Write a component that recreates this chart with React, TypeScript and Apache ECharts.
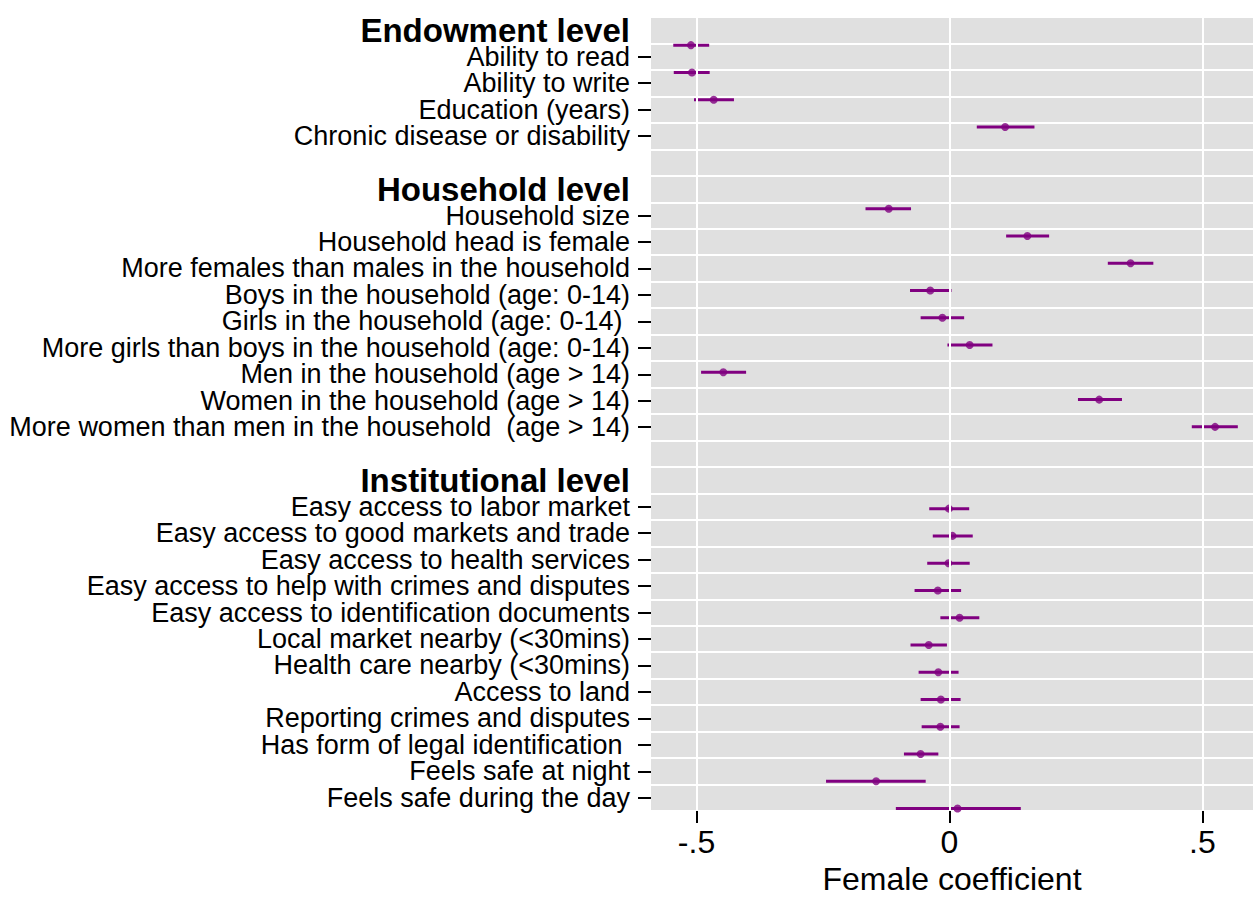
import React, { useEffect, useRef } from "react";
import * as echarts from "echarts";

// ---- data ----
const headings = ["Endowment level", "Household level", "Institutional level"];

const rowLabels = [
  "Endowment level",
  "Ability to read",
  "Ability to write",
  "Education (years)",
  "Chronic disease or disability",
  " ",
  "Household level",
  "Household size",
  "Household head is female",
  "More females than males in the household",
  "Boys in the household (age: 0-14)",
  "Girls in the household (age: 0-14) ",
  "More girls than boys in the household (age: 0-14)",
  "Men in the household (age > 14)",
  "Women in the household (age > 14)",
  "More women than men in the household  (age > 14)",
  "  ",
  "Institutional level",
  "Easy access to labor market",
  "Easy access to good markets and trade",
  "Easy access to health services",
  "Easy access to help with crimes and disputes",
  "Easy access to identification documents",
  "Local market nearby (<30mins)",
  "Health care nearby (<30mins)",
  "Access to land",
  "Reporting crimes and disputes",
  "Has form of legal identification ",
  "Feels safe at night",
  "Feels safe during the day",
];

const coefLabels = [
  "Ability to read",
  "Ability to write",
  "Education (years)",
  "Chronic disease or disability",
  "Household size",
  "Household head is female",
  "More females than males in the household",
  "Boys in the household (age: 0-14)",
  "Girls in the household (age: 0-14) ",
  "More girls than boys in the household (age: 0-14)",
  "Men in the household (age > 14)",
  "Women in the household (age > 14)",
  "More women than men in the household  (age > 14)",
  "Easy access to labor market",
  "Easy access to good markets and trade",
  "Easy access to health services",
  "Easy access to help with crimes and disputes",
  "Easy access to identification documents",
  "Local market nearby (<30mins)",
  "Health care nearby (<30mins)",
  "Access to land",
  "Reporting crimes and disputes",
  "Has form of legal identification ",
  "Feels safe at night",
  "Feels safe during the day",
];

const estimates = [
  -0.511, -0.509, -0.466, 0.110,
  -0.120, 0.154, 0.358, -0.038, -0.014, 0.040, -0.447, 0.296, 0.525,
  -0.001, 0.006, -0.002, -0.023, 0.020, -0.041, -0.022, -0.017, -0.018, -0.057, -0.145, 0.016,
];
const ciLower = [
  -0.546, -0.545, -0.505, 0.054,
  -0.166, 0.112, 0.313, -0.078, -0.057, -0.004, -0.491, 0.254, 0.479,
  -0.040, -0.033, -0.044, -0.069, -0.018, -0.077, -0.061, -0.057, -0.055, -0.090, -0.244, -0.106,
];
const ciUpper = [
  -0.475, -0.474, -0.426, 0.168,
  -0.076, 0.197, 0.403, 0.004, 0.029, 0.085, -0.402, 0.341, 0.570,
  0.039, 0.046, 0.040, 0.023, 0.059, -0.005, 0.018, 0.022, 0.020, -0.022, -0.047, 0.141,
];

const xTicks = [-0.5, 0, 0.5];
const xTitle = "Female coefficient";

const FONT = '"Liberation Sans", Arial, Helvetica, sans-serif';
const PURPLE = "#800080";

export default function App() {
  const ref = useRef<HTMLDivElement>(null);

  useEffect(() => {
    if (!ref.current) return;
    const chart = echarts.init(ref.current, null, { renderer: "svg" });

    // point position on the marker axis: row index minus one (as in the source figure)
    const pos = coefLabels.map((l) => rowLabels.indexOf(l) - 1);
    const ciData = coefLabels.map((_, i) => [ciLower[i], ciUpper[i], pos[i]]);
    const ptData = coefLabels.map((_, i) => [estimates[i], pos[i]]);

    const option: any = {
      animation: false,
      backgroundColor: "#ffffff",
      textStyle: { fontFamily: FONT },
      grid: {
        left: 651,
        right: 0,
        top: 17,
        bottom: 82,
        show: true,
        backgroundColor: "#e0e0e0",
        borderWidth: 0,
      },
      xAxis: {
        type: "value",
        min: -0.59,
        max: 0.6,
        axisLine: { show: false, onZero: false },
        splitLine: { show: false },
        axisTick: {
          show: true,
          customValues: xTicks,
          length: 12,
          lineStyle: { color: "#000", width: 2 },
        },
        axisLabel: {
          customValues: xTicks,
          fontSize: 32,
          color: "#000",
          margin: 15,
          fontFamily: FONT,
          formatter: (v: number) =>
            v === 0 ? "0" : String(v).replace("0.", "."),
        },
        name: xTitle,
        nameLocation: "middle",
        nameGap: 52,
        nameTextStyle: { fontSize: 32, color: "#000", fontFamily: FONT },
      },
      yAxis: [
        {
          type: "category",
          data: rowLabels,
          inverse: true,
          axisLine: { show: false, onZero: false },
          axisTick: {
            show: true,
            alignWithLabel: true,
            length: 13,
            interval: (_i: number, v: string) => coefLabels.includes(v),
            lineStyle: { color: "#000", width: 2 },
          },
          splitLine: {
            show: true,
            interval: 0,
            lineStyle: { color: "#ffffff", width: 2 },
          },
          axisLabel: {
            interval: 0,
            margin: 21,
            color: "#000",
            fontSize: 27,
            fontFamily: FONT,
            formatter: (v: string) =>
              headings.includes(v) ? `{h|${v}}` : `{l|${v}}`,
            rich: {
              h: { fontSize: 33, fontWeight: "bold", color: "#000", fontFamily: FONT },
              l: { fontSize: 27, color: "#000", fontFamily: FONT },
            },
          },
        },
        {
          type: "value",
          inverse: true,
          min: -1.033,
          max: 28.09,
          show: false,
        },
      ],
      series: [
        {
          type: "scatter",
          xAxisIndex: 0,
          yAxisIndex: 1,
          data: [],
          silent: true,
          z: 1,
          markLine: {
            silent: true,
            symbol: "none",
            label: { show: false },
            lineStyle: { color: "#ffffff", width: 2, type: "solid" },
            data: xTicks.map((t) => ({ xAxis: t })),
          },
        },
        {
          type: "custom",
          xAxisIndex: 0,
          yAxisIndex: 1,
          clip: false,
          z: 3,
          data: ciData,
          renderItem: (_params: any, api: any) => {
            const p1 = api.coord([api.value(0), api.value(2)]);
            const p2 = api.coord([api.value(1), api.value(2)]);
            return {
              type: "line",
              shape: { x1: p1[0], y1: p1[1], x2: p2[0], y2: p2[1] },
              style: { stroke: PURPLE, lineWidth: 3 },
            };
          },
        },
        {
          type: "scatter",
          xAxisIndex: 0,
          yAxisIndex: 1,
          clip: false,
          z: 4,
          symbol: "circle",
          symbolSize: 8,
          itemStyle: { color: PURPLE },
          data: ptData,
        },
      ],
    };

    chart.setOption(option);
    return () => chart.dispose();
  }, []);

  return (
    <div
      ref={ref}
      style={{ position: "fixed", left: 0, top: 0, width: 1253, height: 900 }}
    />
  );
}
